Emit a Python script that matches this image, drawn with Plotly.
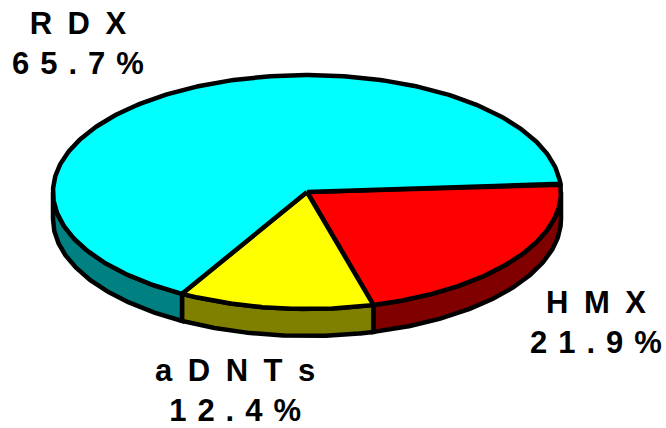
import numpy as np
import plotly.graph_objects as go

labels = ["RDX", "HMX", "aDNTs"]
values = [65.7, 21.9, 12.4]
pct_text = ["65.7%", "21.9%", "12.4%"]
top_colors = ["#00FFFF", "#FF0000", "#FFFF00"]
side_colors = ["#008080", "#800000", "#808000"]
label_pos = [(78, 43), (596, 322), (235, 390)]

CX, CY, RX, RY, DEPTH = 307, 192, 254, 117, 27
START_DEG = 4.0  # HMX starts here, running clockwise

def ell(a):
    return CX + RX * np.cos(a), CY - RY * np.sin(a)

order = [1, 2, 0]
ranges = {}
cur = np.radians(START_DEG)
total = sum(values)
for i in order:
    nxt = cur - 2 * np.pi * values[i] / total
    ranges[i] = (cur, nxt)
    cur = nxt

fig = go.Figure()
LINE = dict(color="black", width=4.5)

for i in order:
    a0, a1 = ranges[i]
    hi = min(a0, 0.0)
    lo = max(a1, -np.pi)
    if hi <= lo:
        continue
    t = np.linspace(hi, lo, 160)
    x, y = ell(t)
    px = np.concatenate([x, x[::-1], x[:1]])
    py = np.concatenate([y, y[::-1] + DEPTH, y[:1]])
    fig.add_trace(go.Scatter(x=px, y=py, mode="lines", fill="toself",
                             fillcolor=side_colors[i], line=LINE, hoverinfo="skip"))

for i in order:
    a0, a1 = ranges[i]
    t = np.linspace(a0, a1, 360)
    x, y = ell(t)
    px = np.concatenate([[CX], x, [CX]])
    py = np.concatenate([[CY], y, [CY]])
    fig.add_trace(go.Scatter(x=px, y=py, mode="lines", fill="toself",
                             fillcolor=top_colors[i], line=LINE, hoverinfo="skip"))

for name, pct, (lx, ly) in zip(labels, pct_text, label_pos):
    text = (f'<span style="letter-spacing:15.5px">{name[:-1]}</span>{name[-1]}<br>'
            f'<span style="letter-spacing:11px">{pct[:-1]}</span>{pct[-1]}')
    fig.add_annotation(x=lx, y=ly, text=text, showarrow=False,
                       font=dict(family="Liberation Sans", size=31, color="black", weight="bold"),
                       align="center", xanchor="center", yanchor="middle")

fig.update_layout(width=666, height=428, margin=dict(l=0, r=0, t=0, b=0),
                  paper_bgcolor="white", plot_bgcolor="white", showlegend=False,
                  xaxis=dict(range=[0, 666], visible=False, fixedrange=True),
                  yaxis=dict(range=[428, 0], visible=False, fixedrange=True))
fig.write_html("out.html", config={"displayModeBar": False},
               post_script="document.body.style.margin='0';")
